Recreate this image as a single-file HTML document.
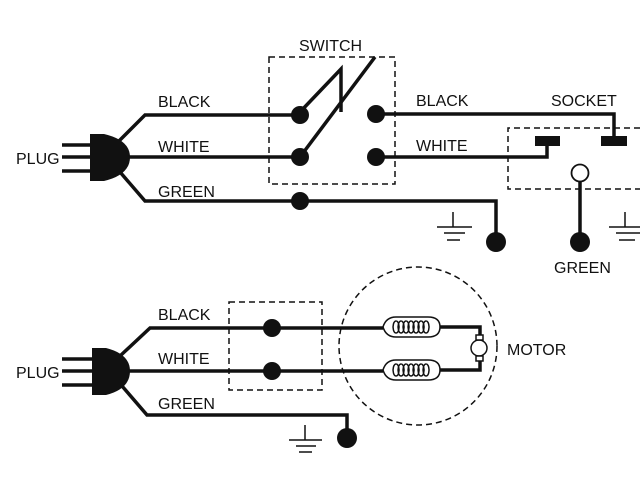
<!DOCTYPE html>
<html><head><meta charset="utf-8"><style>
html,body{margin:0;padding:0;background:#fff;}
svg{display:block;}
text{font-family:"Liberation Sans",sans-serif;font-size:16px;fill:#111;}
</style></head><body>
<svg width="640" height="480" viewBox="0 0 640 480" xmlns="http://www.w3.org/2000/svg">
<g stroke="#111" fill="none" stroke-width="3.5">
<path d="M90,134 L104,134 Q130,140 130,157 Q130,175 104,181 L90,181 Z" fill="#111" stroke="none"/>
<path d="M62,145H90M62,157H90M62,171H90"/>
<path d="M118,142L145,115H300"/>
<path d="M128,157H300"/>
<path d="M120,172L145,201H496V242"/>
<path d="M300,112L341,69V112"/>
<path d="M300,157L375,57"/>
<path d="M376,114H614V138"/>
<path d="M376,157H547V144"/>
<path d="M580,180V242"/>
</g>
<g fill="#111">
<circle cx="300" cy="115" r="9"/><circle cx="300" cy="157" r="9"/><circle cx="300" cy="201" r="9"/>
<circle cx="376" cy="114" r="9"/><circle cx="376" cy="157" r="9"/>
<circle cx="496" cy="242" r="10"/><circle cx="580" cy="242" r="10"/>
<rect x="535" y="136" width="25" height="10"/><rect x="601" y="136" width="26" height="10"/>
</g>
<circle cx="580" cy="173" r="8.5" fill="#fff" stroke="#111" stroke-width="1.8"/>
<g stroke="#111" fill="none" stroke-width="1.5" stroke-dasharray="6,4">
<rect x="269" y="57" width="126" height="127"/>
<path d="M640,128H508V189H640"/>
<rect x="229" y="302" width="93" height="88"/>
<circle cx="418" cy="346" r="79"/>
</g>
<g stroke="#111" stroke-width="1.5">
<path d="M453,212V227M437,227H472M444,233H465M447,240H460"/>
<path d="M625,212V227M609,227H640M616,233H640M619,240H635"/>
<path d="M305,425V440M289,440H322M296,446H316M299,452H312"/>
</g>
<g stroke="#111" fill="none" stroke-width="3.5">
<path d="M92,348 L106,348 Q130,354 130,371 Q130,389 106,395 L92,395 Z" fill="#111" stroke="none"/>
<path d="M62,359H92M62,371H92M62,385H92"/>
<path d="M120,356L150,328H383"/>
<path d="M128,371H383"/>
<path d="M122,386L147,415H347V437"/>
<path d="M440,327H480V340M440,370H480V356"/>
</g>
<g fill="#111"><circle cx="272" cy="328" r="9"/><circle cx="272" cy="371" r="9"/><circle cx="347" cy="438" r="10"/></g>
<g stroke="#111" fill="none" stroke-width="1.5">
<path d="M383,327 Q386,317 396,317 H428 Q440,317 440,327 Q440,337 428,337 H396 Q386,337 383,327Z"/>
<path d="M383,370 Q386,360 396,360 H428 Q440,360 440,370 Q440,380 428,380 H396 Q386,380 383,370Z"/>
<path d="M396,321 a3,6 0 1 0 0.1,0 M401,321 a3,6 0 1 0 0.1,0 M406,321 a3,6 0 1 0 0.1,0 M411,321 a3,6 0 1 0 0.1,0 M416,321 a3,6 0 1 0 0.1,0 M421,321 a3,6 0 1 0 0.1,0 M426,321 a3,6 0 1 0 0.1,0"/>
<path d="M396,364 a3,6 0 1 0 0.1,0 M401,364 a3,6 0 1 0 0.1,0 M406,364 a3,6 0 1 0 0.1,0 M411,364 a3,6 0 1 0 0.1,0 M416,364 a3,6 0 1 0 0.1,0 M421,364 a3,6 0 1 0 0.1,0 M426,364 a3,6 0 1 0 0.1,0"/>
<circle cx="479" cy="348" r="8" fill="#fff"/>
<rect x="476" y="335" width="7" height="5" fill="#fff"/><rect x="476" y="356" width="7" height="5" fill="#fff"/>
</g>
<text x="16" y="164">PLUG</text>
<text x="158" y="107">BLACK</text>
<text x="158" y="152">WHITE</text>
<text x="158" y="197">GREEN</text>
<text x="299" y="51">SWITCH</text>
<text x="416" y="106">BLACK</text>
<text x="416" y="151">WHITE</text>
<text x="551" y="106">SOCKET</text>
<text x="554" y="273">GREEN</text>
<text x="16" y="378">PLUG</text>
<text x="158" y="320">BLACK</text>
<text x="158" y="364">WHITE</text>
<text x="158" y="409">GREEN</text>
<text x="507" y="355">MOTOR</text>
</svg>
</body></html>
